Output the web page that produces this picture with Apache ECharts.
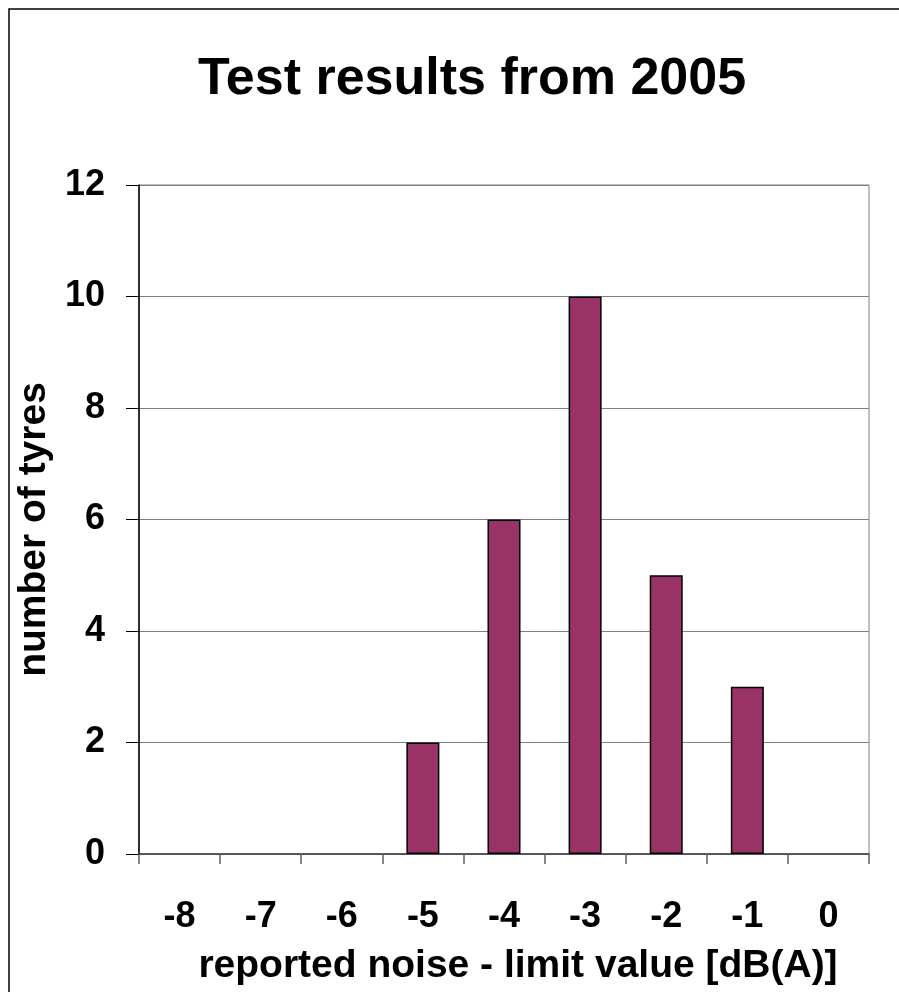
<!DOCTYPE html>
<html>
<head>
<meta charset="utf-8">
<script src="https://cdn.jsdelivr.net/npm/echarts@6/dist/echarts.min.js"></script>
<style>
html,body{margin:0;padding:0;background:#fff;}
#chart{width:899px;height:992px;}
</style>
</head>
<body>
<div id="chart"></div>
<script>
// noise classes (reported noise - limit value) and tyre counts
const categories = ['-8', '-7', '-6', '-5', '-4', '-3', '-2', '-1', '0'];
const tyreCounts = [0, 0, 0, 2, 6, 10, 5, 3, 0];
const yTicks = { min: 0, max: 12, step: 2 };

const chart = echarts.init(document.getElementById('chart'));
const font = 'Arial, "Liberation Sans", sans-serif';

// empty classes get no outline (Excel draws nothing there)
const barData = tyreCounts.map(v => ({
    value: v,
    itemStyle: v === 0 ? { borderWidth: 0 } : {}
}));

let option = {
    backgroundColor: '#fff',
    animation: false,
    graphic: [
        {   // outer frame
            type: 'rect',
            shape: { x: 9, y: 9, width: 900, height: 1000 },
            style: { fill: 'none', stroke: '#000', lineWidth: 1.5 },
            silent: true
        },
        {
            type: 'text',
            x: 472, y: 80,
            style: {
                text: 'Test results from 2005',
                fontFamily: font, fontSize: 52, fontWeight: 'bold',
                fill: '#000', align: 'center', verticalAlign: 'middle'
            }
        }
    ],
    grid: {
        left: 139, right: 30, top: 185, bottom: 138,
        show: true, borderColor: '#808080', borderWidth: 1
    },
    xAxis: {
        type: 'category',
        data: categories,
        boundaryGap: true,
        name: 'reported noise - limit value [dB(A)]',
        nameLocation: 'middle',
        nameGap: 93,
        nameTextStyle: {
            fontFamily: font, fontSize: 39, fontWeight: 'bold', color: '#000',
            padding: [0, 0, 0, 28]
        },
        axisLine: { lineStyle: { color: '#404040', width: 1.5 } },
        axisTick: { show: true, alignWithLabel: false, length: 10, lineStyle: { color: '#606060', width: 1.5 } },
        axisLabel: { margin: 45, fontFamily: font, fontSize: 36, fontWeight: 'bold', color: '#000' },
        splitLine: { show: false }
    },
    yAxis: {
        type: 'value',
        min: yTicks.min, max: yTicks.max, interval: yTicks.step,
        name: 'number of tyres',
        nameLocation: 'middle',
        nameGap: 77,
        nameTextStyle: {
            fontFamily: font, fontSize: 39, fontWeight: 'bold', color: '#000',
            padding: [0, 20, 0, 0]
        },
        axisLine: { show: true, lineStyle: { color: '#000', width: 1.5 } },
        axisTick: { show: true, inside: false, length: 13, lineStyle: { color: '#000', width: 1 } },
        axisLabel: { margin: 34, fontFamily: font, fontSize: 36, fontWeight: 'bold', color: '#000' },
        splitLine: { show: true, lineStyle: { color: '#808080', width: 1 } }
    },
    series: [{
        name: 'number of tyres',
        type: 'bar',
        data: barData,
        barWidth: 33,
        itemStyle: { color: '#993366', borderColor: '#000', borderWidth: 1.5 }
    }]
};
chart.setOption(option);
</script>
</body>
</html>
